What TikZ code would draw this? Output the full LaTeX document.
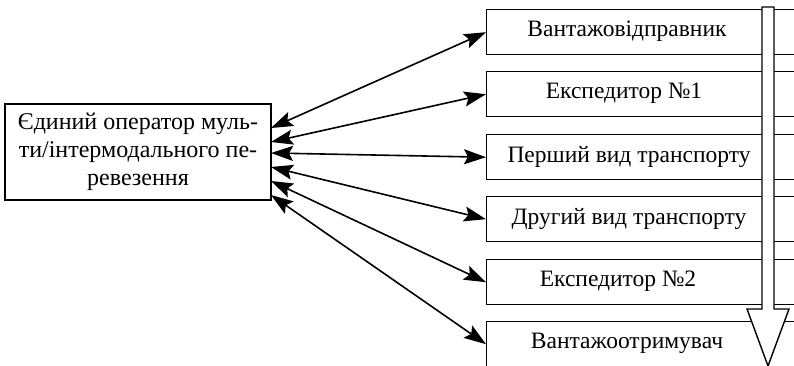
\documentclass[tikz,border=0pt]{standalone}
\usepackage{fontspec}
\setmainfont{Liberation Serif}
\usetikzlibrary{arrows.meta}
\begin{document}
\begin{tikzpicture}[x=1pt,y=-1pt,
  rbox/.style={draw,line width=1.4pt,rectangle,inner sep=0pt,minimum width=320pt,minimum height=45pt,anchor=north west},
  txt/.style={font=\fontsize{23.5}{28}\selectfont,inner sep=0pt},
  lbox/.style={draw,line width=1.4pt,rectangle,inner sep=0pt,minimum width=266pt,minimum height=96pt,align=center,font=\fontsize{24}{28}\selectfont},
  dbl/.style={line width=1.6pt,{Stealth[length=22pt,width=15pt,inset=4pt]}-{Stealth[length=22pt,width=15pt,inset=4pt]}}]
\useasboundingbox (0,0) rectangle (794,366);
\begin{scope}
\clip (0,0) rectangle (794,366);
\node[lbox] (L) at (138,152) {Єдиний оператор муль-\\ти/інтермодального пе-\\ревезення};
\node[rbox] (b1) at (486,9) {};
\node[rbox] (b2) at (486,71) {};
\node[rbox] (b3) at (486,134) {};
\node[rbox] (b4) at (486,196) {};
\node[rbox] (b5) at (486,259) {};
\node[rbox] (b6) at (486,321) {};
\node[txt] (t1) at (627,31.5) {Вантажовідправник};
\node[txt] (t2) at (624,93.5) {Експедитор №1};
\node[txt] (t3) at (629,156.5) {Перший вид транспорту};
\node[txt] (t4) at (629,218.5) {Другий вид транспорту};
\node[txt] (t5) at (618,281.5) {Експедитор №2};
\node[txt] (t6) at (627,343.5) {Вантажоотримувач};
\draw[line width=1.4pt,fill=white] (762,7) -- (774,7) -- (774,309) -- (789,309) -- (768,366) -- (747,309) -- (762,309) -- cycle;
\end{scope}
\coordinate (l1) at (271,128);
\coordinate (l2) at (271,142);
\coordinate (l3) at (271,153);
\coordinate (l4) at (271,167);
\coordinate (l5) at (271,181);
\coordinate (l6) at (271,195);
\draw[dbl] (l1) -- (b1.west);
\draw[dbl] (l2) -- (b2.west);
\draw[dbl] (l3) -- (b3.west);
\draw[dbl] (l4) -- (b4.west);
\draw[dbl] (l5) -- (b5.west);
\draw[dbl] (l6) -- (b6.west);
\end{tikzpicture}
\end{document}
